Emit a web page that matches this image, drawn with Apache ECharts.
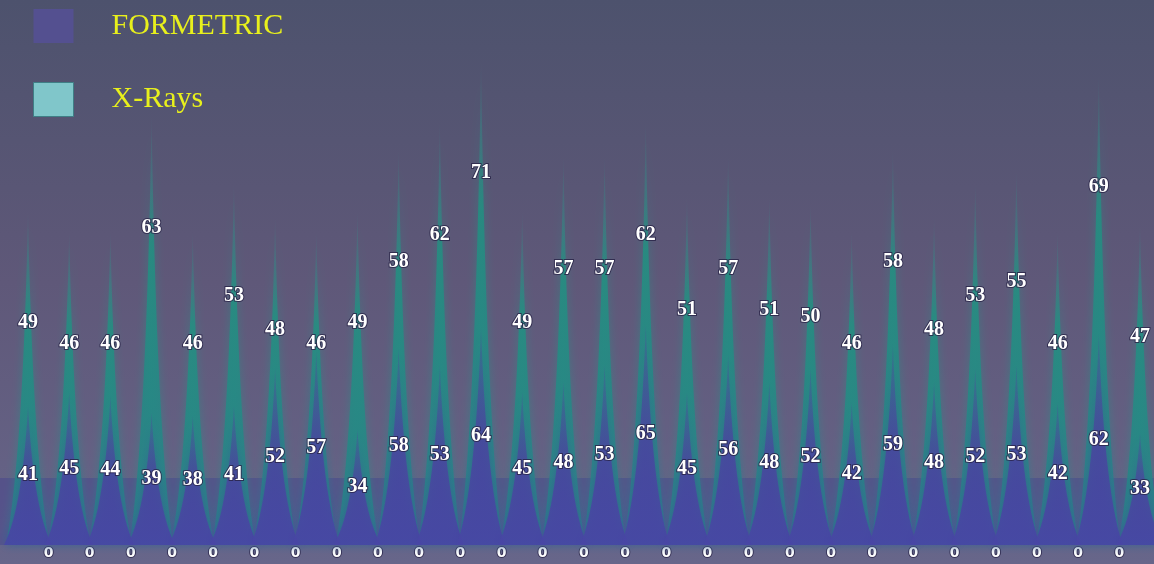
<!DOCTYPE html>
<html>
<head>
<meta charset="utf-8">
<script src="https://cdn.jsdelivr.net/npm/echarts@6/dist/echarts.min.js"></script>
<style>
html, body { margin: 0; padding: 0; }
#echart { width: 1154px; height: 564px; }
</style>
</head>
<body>
<div id="echart"></div>
<script>
var categories = ['0', '0', '0', '0', '0', '0', '0', '0', '0', '0', '0', '0', '0', '0',
    '0', '0', '0', '0', '0', '0', '0', '0', '0', '0', '0', '0', '0', '0'];
var formetric = [41, 45, 44, 39, 38, 41, 52, 57, 34, 58, 53, 64, 45, 48,
    53, 65, 45, 56, 48, 52, 42, 59, 48, 52, 53, 42, 62, 33];
var xRays = [49, 46, 46, 63, 46, 53, 48, 46, 49, 58, 62, 71, 49, 57,
    57, 62, 51, 57, 51, 50, 46, 58, 48, 53, 55, 46, 69, 47];

// soft spike: nearly straight sides, slightly concave
var spike = 'path://M0,10 L10,10 C7,8 5.6,4 5,0 C4.4,4 3,8 0,10 z';

var labelStyle = {
    show: true,
    color: '#ffffff',
    fontSize: 20,
    fontWeight: 'bold',
    fontFamily: 'Liberation Serif',
    textBorderColor: 'rgba(40,34,70,0.8)',
    textBorderWidth: 2
};

var myChart = echarts.init(document.getElementById('echart'));
var option = {
    backgroundColor: new echarts.graphic.LinearGradient(0, 0, 0, 1, [
        {offset: 0, color: '#4d526d'},
        {offset: 0.5, color: '#5f5879'},
        {offset: 1, color: '#67668a'}
    ]),
    legend: {
        orient: 'vertical',
        left: 28,
        top: 4,
        icon: 'rect',
        itemWidth: 40,
        itemHeight: 34,
        itemGap: 39,
        textStyle: {
            color: '#e8f01c',
            fontSize: 30,
            fontFamily: 'Liberation Serif',
            padding: [0, 0, 0, 33]
        },
        data: [
            {name: 'FORMETRIC', itemStyle: {color: '#545090', borderWidth: 0}},
            {name: 'X-Rays', itemStyle: {color: '#80c6ca', borderColor: '#3f7f86', borderWidth: 1}}
        ]
    },
    grid: [
        {left: 28, right: 14, top: 0, bottom: 19},
        {left: 0, right: 0, top: 478, height: 67, show: true, borderWidth: 0,
            backgroundColor: 'rgba(76,72,140,0.62)'}
    ],
    xAxis: [
        {
            type: 'category',
            data: categories,
            boundaryGap: false,
            axisLine: {show: false},
            axisTick: {show: false},
            axisLabel: {
                margin: 1,
                color: '#ffffff',
                fontSize: 14,
                fontWeight: 'bold',
                fontFamily: 'DejaVu Sans',
                textBorderColor: 'rgba(40,34,70,0.8)',
                textBorderWidth: 2,
                padding: [0, 0, 0, 41],
                interval: function (index) {
                    return index < categories.length - 1;
                }
            }
        },
        {type: 'value', gridIndex: 1, show: false}
    ],
    yAxis: [
        {type: 'value', min: 0, max: 80, show: false, splitLine: {show: false}},
        {type: 'value', min: 0, max: 160, show: false, splitLine: {show: false}},
        {type: 'value', gridIndex: 1, show: false}
    ],
    series: [
        {
            name: 'X-Rays',
            type: 'pictorialBar',
            yAxisIndex: 0,
            symbol: spike,
            symbolSize: [44, '100%'],
            barGap: '-100%',
            z: 2,
            itemStyle: {
                shadowBlur: 10,
                shadowColor: 'rgba(30,150,135,0.6)',
                color: new echarts.graphic.LinearGradient(0, 0, 0, 1, [
                    {offset: 0, color: 'rgba(60,140,140,0.1)'},
                    {offset: 0.3, color: 'rgba(30,148,130,0.78)'},
                    {offset: 1, color: 'rgba(38,130,136,0.85)'}
                ])
            },
            label: Object.assign({}, labelStyle, {position: 'insideTop', distance: 102}),
            data: xRays
        },
        {
            name: 'FORMETRIC',
            type: 'pictorialBar',
            yAxisIndex: 1,
            symbol: spike,
            symbolSize: [48, '100%'],
            barGap: '-100%',
            z: 3,
            itemStyle: {
                shadowBlur: 10,
                shadowColor: 'rgba(70,60,160,0.6)',
                color: new echarts.graphic.LinearGradient(0, 0, 0, 1, [
                    {offset: 0, color: 'rgba(85,60,160,0.2)'},
                    {offset: 0.5, color: 'rgba(75,65,160,0.75)'},
                    {offset: 1, color: 'rgba(72,70,165,0.9)'}
                ])
            },
            label: Object.assign({}, labelStyle, {position: 'inside'}),
            data: formetric
        }
    ]
};
myChart.setOption(option);
</script>
</body>
</html>
